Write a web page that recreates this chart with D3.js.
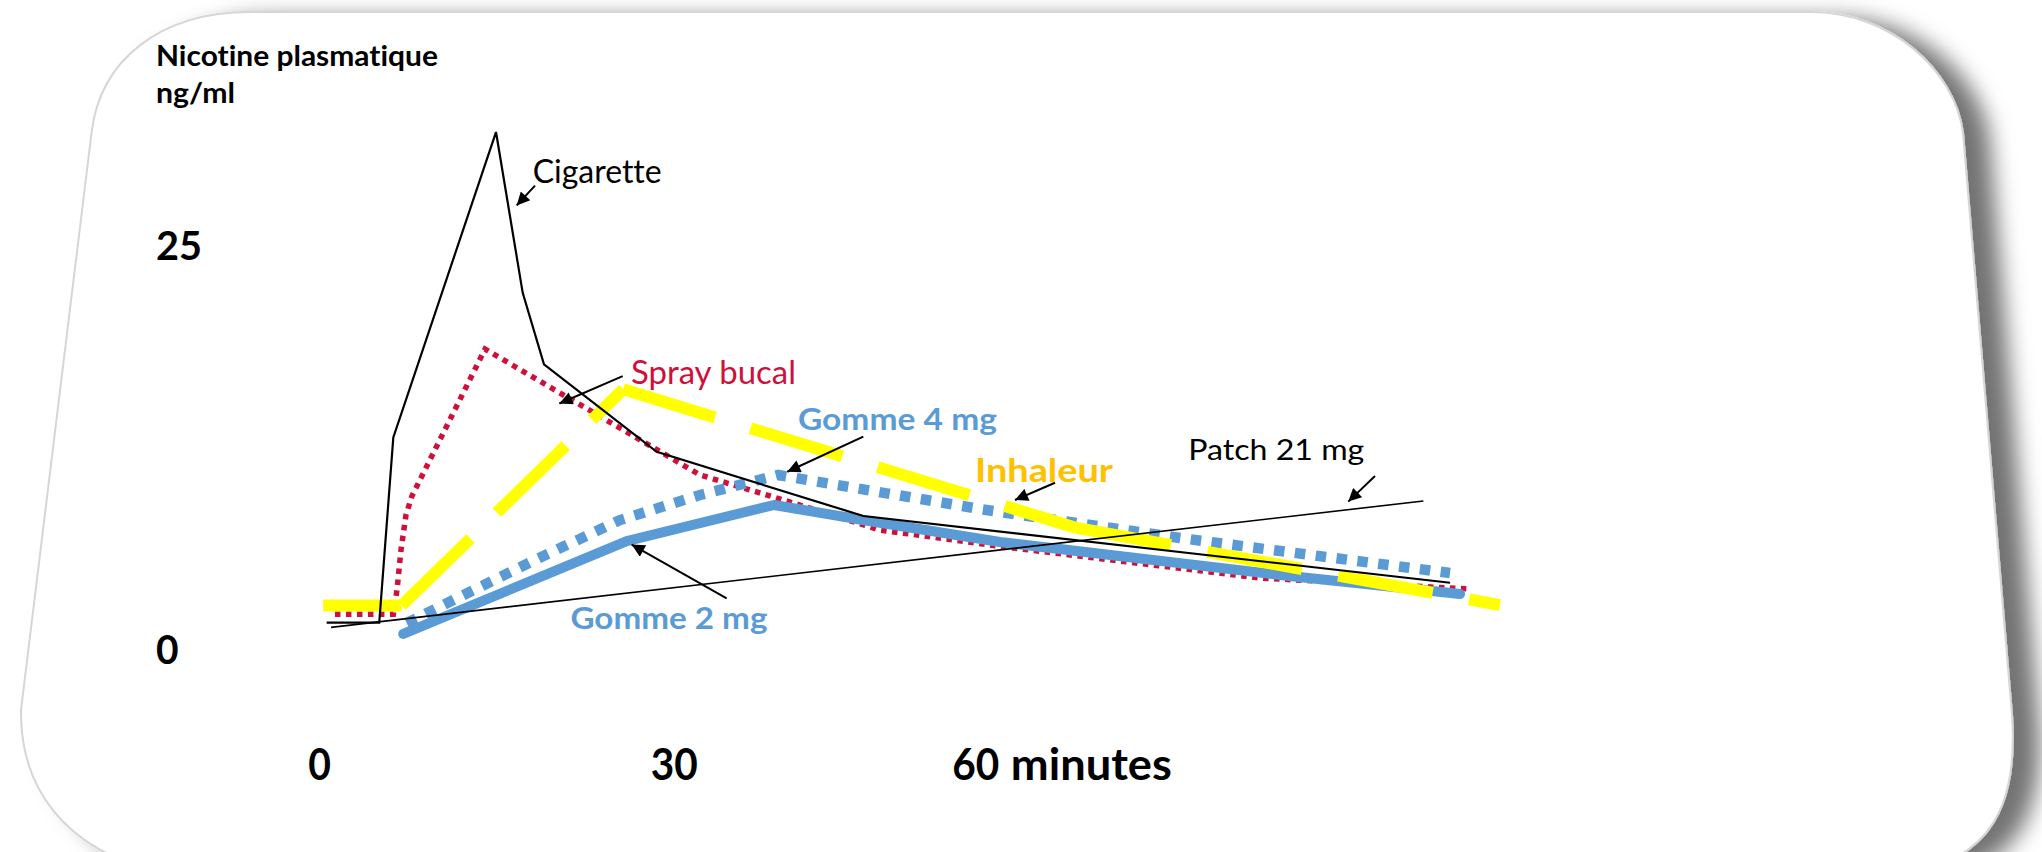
<!DOCTYPE html>
<html>
<head>
<meta charset="utf-8">
<script src="https://cdn.jsdelivr.net/npm/d3@7"></script>
<style>
  html, body { margin: 0; padding: 0; background: #fff; }
  svg { display: block; }
  text { font-family: Lato, "Open Sans", sans-serif; font-variant-ligatures: none; }
</style>
</head>
<body>
<div id="chart"></div>
<script>
// [minutes, ng/ml]
const cigarette = [[0.59, 1.63], [5.04, 1.63], [6.23, 13.09], [14.92, 31.99], [17.18, 22.04],
  [18.98, 17.62], [28.52, 12.2], [48.81, 8.23], [107.17, 4.1]];
const sprayBucal = [[1.29, 2.15], [6.23, 2.15], [6.54, 3.65], [6.88, 6.13], [7.3, 8.29], [7.81, 9.47],
  [13.99, 18.56], [32.57, 10.77], [42.51, 8.91], [50.47, 7.36], [63.7, 6.25], [88.27, 4.39], [109.16, 3.71]];
const gomme2 = [[7.07, 0.93], [25.98, 6.68], [39.93, 8.91], [48.78, 7.98], [62.41, 6.62], [90.26, 4.58], [108.17, 3.4]];
const gomme4 = [[7.36, 1.61], [18.05, 5.45], [25.41, 7.98], [32.57, 9.53], [40.33, 10.77], [60.42, 8.66],
  [80.31, 6.87], [107.17, 4.7]];
const inhaleur = [[0.3, 2.69], [6.94, 2.69], [25.69, 16.07], [70.02, 7.49], [112.14, 2.72]];
const patch21 = [[0.96, 1.34], [104.52, 9.16]];

const xTicks = [0, 30, 60];
const xTickLabels = ["0", "30", "60"];
const xUnit = "minutes";
const yTicks = [0, 25];
const yTitle = ["Nicotine plasmatique", "ng/ml"];

// label anchor + arrow (start -> tip), in data units
const annotations = [
  { label: "Cigarette", at: [18.02, 28.84], from: [18.22, 28.67], to: [16.67, 27.45] },
  { label: "Spray bucal", at: [26.34, 16.4], from: [25.64, 16.89], to: [20.28, 15.19] },
  { label: "Gomme 4 mg", at: [42.31, 13.55], from: [48.81, 13.14], to: [41.25, 10.97] },
  { label: "Inhaleur", at: [59.92, 10.35], from: [67.88, 10.29], to: [63.9, 9.22] },
  { label: "Patch 21 mg", at: [81.14, 11.7], from: [99.71, 10.71], to: [97.05, 9.12] },
  { label: "Gomme 2 mg", at: [21.22, 1.24], from: [35.22, 3.14], to: [26.4, 6.46] },
];

const RED = "#D0103A";
const BLUE = "#5B9BD5";

const labelStyle = {
  "Cigarette": { size: 32, weight: 400, color: "#000", width: 129 },
  "Spray bucal": { size: 32, weight: 400, color: RED, width: 165 },
  "Gomme 4 mg": { size: 30, weight: 700, color: BLUE, width: 199 },
  "Inhaleur": { size: 33, weight: 700, color: "#FFC000", width: 138 },
  "Patch 21 mg": { size: 29.5, weight: 400, color: "#000", width: 176 },
  "Gomme 2 mg": { size: 30, weight: 700, color: BLUE, width: 197 },
};

// drawing order matters: later ones sit on top
const series = [
  { data: sprayBucal, color: RED, width: 5.5, dash: "5.5 5.5" },
  { data: gomme2, color: BLUE, width: 10, cap: "round" },
  { data: gomme4, color: BLUE, width: 10.5, dash: "10.5 10.5" },
  { data: inhaleur, color: "#FFFF00", width: 12, dash: "96 37", perSegment: true },
  { data: cigarette, color: "#000", width: 2.2 },
  { data: patch21, color: "#000", width: 1.6 },
];

const width = 2042;
const height = 852;

const svg = d3
  .select("#chart")
  .append("svg")
  .attr("width", width)
  .attr("height", height);

const defs = svg.append("defs");

const shadow = defs
  .append("filter")
  .attr("id", "card-shadow")
  .attr("x", "-5%")
  .attr("y", "-10%")
  .attr("width", "115%")
  .attr("height", "130%");

shadow
  .append("feDropShadow")
  .attr("dx", 26)
  .attr("dy", 7)
  .attr("stdDeviation", 11)
  .attr("flood-color", "#000")
  .attr("flood-opacity", 0.55);

defs
  .append("marker")
  .attr("id", "arrow")
  .attr("viewBox", "0 0 10 10")
  .attr("refX", 10)
  .attr("refY", 5)
  .attr("markerUnits", "userSpaceOnUse")
  .attr("markerWidth", 15)
  .attr("markerHeight", 13)
  .attr("orient", "auto")
  .append("path")
  .attr("d", "M0,0 L10,5 L0,10 Z")
  .attr("fill", "#000");

// the slide card, slightly skewed like the original
svg
  .append("path")
  .attr(
    "d",
    "M250,12 L1811,12 C1890,12 1955,70 1963,133 L2012,715 " +
      "C2018,800 1995,862 1900,874 L180,874 C80,862 20,800 21,710 " +
      "L91.5,133 C100,60 160,12 250,12 Z"
  )
  .attr("fill", "#fff")
  .attr("stroke", "#d6d6d6")
  .attr("stroke-width", 2)
  .attr("filter", "url(#card-shadow)");

// polylinear x so the hand-placed tick labels line up
const x = d3.scaleLinear().domain(xTicks).range([319.7, 674.2, 975.8]);
const y = d3.scaleLinear().domain([0, 25]).range([649, 245]);

const line = d3
  .line()
  .x((d) => x(d[0]))
  .y((d) => y(d[1]));

const g = svg.append("g");

series.forEach((s) => {
  // inhaleur dashes restart at every corner in the original
  const pieces = s.perSegment
    ? d3.pairs(s.data)
    : [s.data];

  g.selectAll(null)
    .data(pieces)
    .enter()
    .append("path")
    .attr("d", line)
    .attr("fill", "none")
    .attr("stroke", s.color)
    .attr("stroke-width", s.width)
    .attr("stroke-dasharray", s.dash || null)
    .attr("stroke-linecap", s.cap || "butt")
    .attr("stroke-linejoin", s.cap ? "round" : "miter");
});

// annotations
const notes = svg.append("g");

notes
  .selectAll("line")
  .data(annotations)
  .enter()
  .append("line")
  .attr("x1", (d) => x(d.from[0]))
  .attr("y1", (d) => y(d.from[1]))
  .attr("x2", (d) => x(d.to[0]))
  .attr("y2", (d) => y(d.to[1]))
  .attr("stroke", "#000")
  .attr("stroke-width", 2)
  .attr("marker-end", "url(#arrow)");

notes
  .selectAll("text")
  .data(annotations)
  .enter()
  .append("text")
  .attr("x", (d) => x(d.at[0]))
  .attr("y", (d) => y(d.at[1]))
  .attr("font-size", (d) => labelStyle[d.label].size)
  .attr("font-weight", (d) => labelStyle[d.label].weight)
  .attr("fill", (d) => labelStyle[d.label].color)
  .attr("textLength", (d) => labelStyle[d.label].width)
  .attr("lengthAdjust", "spacingAndGlyphs")
  .text((d) => d.label);

// y axis title and ticks
const titleWidths = [282, 79];

svg
  .selectAll(".y-title")
  .data(yTitle)
  .enter()
  .append("text")
  .attr("class", "y-title")
  .attr("x", 156)
  .attr("y", (d, i) => 66 + i * 37.3)
  .attr("font-size", 28)
  .attr("font-weight", 700)
  .attr("textLength", (d, i) => titleWidths[i])
  .attr("lengthAdjust", "spacingAndGlyphs")
  .text((d) => d);

svg
  .selectAll(".y-tick")
  .data(yTicks)
  .enter()
  .append("text")
  .attr("class", "y-tick")
  .attr("x", 156)
  .attr("y", (d) => y(d) + 14.5)
  .attr("font-size", 41)
  .attr("font-weight", 700)
  .attr("textLength", (d) => (String(d).length > 1 ? 46 : 22.6))
  .attr("lengthAdjust", "spacingAndGlyphs")
  .text((d) => d);

// x ticks
const xLabelY = 780;

svg
  .selectAll(".x-tick")
  .data(xTicks)
  .enter()
  .append("text")
  .attr("class", "x-tick")
  .attr("x", (d) => x(d))
  .attr("y", xLabelY)
  .attr("text-anchor", "middle")
  .attr("font-size", 43)
  .attr("font-weight", 700)
  .attr("textLength", (d, i) => (xTickLabels[i].length > 1 ? 47 : 22.7))
  .attr("lengthAdjust", "spacingAndGlyphs")
  .text((d, i) => xTickLabels[i]);

svg
  .append("text")
  .attr("x", x(xTicks[xTicks.length - 1]) + 35)
  .attr("y", xLabelY)
  .attr("font-size", 43)
  .attr("font-weight", 700)
  .attr("textLength", 161)
  .attr("lengthAdjust", "spacingAndGlyphs")
  .text(xUnit);
</script>
</body>
</html>
